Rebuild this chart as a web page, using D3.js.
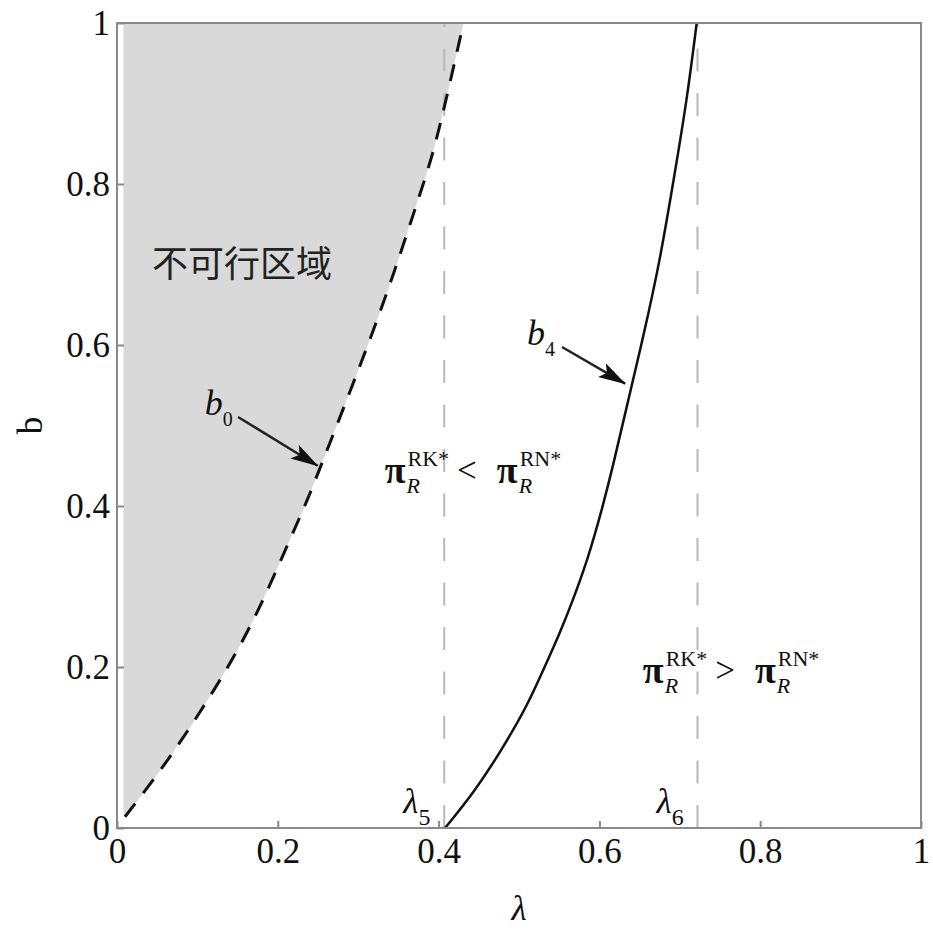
<!DOCTYPE html>
<html lang="zh">
<head>
<meta charset="utf-8">
<title>b - λ</title>
<script src="https://cdn.jsdelivr.net/npm/d3@7/dist/d3.min.js"></script>
<style>
    body { margin: 0; background: #fff; }
    text { font-family: "Liberation Serif", "Times New Roman", serif; fill: #111; }
    text.cjk { font-family: "Noto Sans CJK SC", sans-serif; fill: #222; }
</style>
</head>
<body>
<div id="chart"></div>
<script>
    // curve b0 (boundary of the infeasible region)
    const b0Lambda = [0.010, 0.058, 0.103, 0.149, 0.184, 0.213, 0.236, 0.254, 0.293, 0.335, 0.381, 0.397, 0.431];
    const b0Value  = [0.014, 0.076, 0.143, 0.217, 0.287, 0.354, 0.405, 0.451, 0.550, 0.660, 0.800, 0.850, 1.000];
    // curve b4
    const b4Lambda = [0.408, 0.443, 0.476, 0.510, 0.534, 0.549, 0.566, 0.586, 0.603, 0.617, 0.632, 0.655, 0.675, 0.692, 0.709, 0.721];
    const b4Value  = [0.000, 0.043, 0.093, 0.151, 0.205, 0.238, 0.280, 0.335, 0.395, 0.450, 0.515, 0.612, 0.703, 0.803, 0.905, 1.000];
    // thresholds lambda5 and lambda6
    const thresholds = [0.407, 0.722];
    const thresholdNames = ["5", "6"];
    const fillLeft = 0.008;
    const xTicks = [0, 0.2, 0.4, 0.6, 0.8, 1];
    const yTicks = [0, 0.2, 0.4, 0.6, 0.8, 1];

    const width = 933, height = 933;
    const margin = {left: 117, right: 12, top: 23, bottom: 105};

    const svg = d3.select("#chart").append("svg")
        .attr("width", width)
        .attr("height", height);

    const x = d3.scaleLinear().domain([0, 1]).range([margin.left, width - margin.right]);
    const y = d3.scaleLinear().domain([0, 1]).range([height - margin.bottom, margin.top]);

    const b0 = b0Lambda.map((l, i) => ({lam: l, b: b0Value[i]}));
    const b4 = b4Lambda.map((l, i) => ({lam: l, b: b4Value[i]}));

    // grey infeasible region, left of b0
    svg.append("path")
        .datum(b0)
        .attr("fill", "#d9d9d9")
        .attr("d", d3.area()
            .curve(d3.curveBasis)
            .y(d => y(d.b))
            .x0(x(fillLeft))
            .x1(d => x(d.lam)));

    // vertical grey dashed lines (drawn from the bottom up)
    svg.selectAll(".vline")
        .data(thresholds)
        .enter()
        .append("line")
        .attr("x1", d => x(d)).attr("x2", d => x(d))
        .attr("y1", y(0)).attr("y2", y(1))
        .attr("stroke", "#b8b8b8")
        .attr("stroke-width", 2)
        .attr("stroke-dasharray", "23,21.5");

    // b0 dashed
    svg.append("path")
        .datum(b0)
        .attr("fill", "none")
        .attr("stroke", "#111")
        .attr("stroke-width", 3)
        .attr("stroke-dasharray", "17,13")
        .attr("d", d3.line().curve(d3.curveBasis).x(d => x(d.lam)).y(d => y(d.b)));

    // b4 solid
    svg.append("path")
        .datum(b4)
        .attr("fill", "none")
        .attr("stroke", "#111")
        .attr("stroke-width", 2.5)
        .attr("d", d3.line().curve(d3.curveBasis).x(d => x(d.lam)).y(d => y(d.b)));

    // axes, ticks pointing inward, no domain line
    const fmt = d3.format("");
    const xAxis = svg.append("g")
        .attr("transform", "translate(0," + y(0) + ")")
        .call(d3.axisBottom(x).tickValues(xTicks).tickFormat(fmt).tickSizeInner(-7).tickSizeOuter(0).tickPadding(10));
    const yAxis = svg.append("g")
        .attr("transform", "translate(" + x(0) + ",0)")
        .call(d3.axisLeft(y).tickValues(yTicks).tickFormat(fmt).tickSizeInner(-7).tickSizeOuter(0).tickPadding(7));
    [xAxis, yAxis].forEach(a => {
        a.select(".domain").remove();
        a.selectAll("line").attr("stroke", "#888").attr("stroke-width", 2);
        a.selectAll("text").style("font-size", "35px");
    });

    // frame
    svg.append("rect")
        .attr("x", x(0)).attr("y", y(1))
        .attr("width", x(1) - x(0)).attr("height", y(0) - y(1))
        .attr("fill", "none")
        .attr("stroke", "#8a8a8a")
        .attr("stroke-width", 2);

    // axis titles
    svg.append("text")
        .attr("x", (x(0) + x(1)) / 2)
        .attr("y", y(0) + 92)
        .attr("text-anchor", "middle")
        .attr("font-size", 35)
        .attr("font-style", "italic")
        .text("λ");
    svg.append("text")
        .attr("transform", "translate(42," + (y(0) + y(1)) / 2 + ") rotate(-90)")
        .attr("text-anchor", "middle")
        .attr("font-size", 35)
        .text("b");

    // region label
    svg.append("text")
        .attr("class", "cjk")
        .attr("x", x(0.0435)).attr("y", y(0.684))
        .attr("font-size", 36)
        .text("不可行区域");

    // arrow marker
    svg.append("defs").append("marker")
        .attr("id", "head")
        .attr("markerUnits", "userSpaceOnUse")
        .attr("viewBox", "0 0 28 16")
        .attr("refX", 27).attr("refY", 8)
        .attr("markerWidth", 28).attr("markerHeight", 16)
        .attr("orient", "auto")
        .append("path")
        .attr("d", "M0,0 L28,8 L0,16 L6,8 Z")
        .attr("fill", "#111");

    function curveLabel(name, sub, lam, bb, from, to) {
        const t = svg.append("text")
            .attr("x", x(lam)).attr("y", y(bb))
            .attr("font-size", 36)
            .attr("font-style", "italic")
            .text(name);
        const w = t.node().getComputedTextLength();
        svg.append("text")
            .attr("x", x(lam) + w).attr("y", y(bb) + 11)
            .attr("font-size", 20)
            .text(sub);
        svg.append("line")
            .attr("x1", x(from[0])).attr("y1", y(from[1]))
            .attr("x2", x(to[0])).attr("y2", y(to[1]))
            .attr("stroke", "#222")
            .attr("stroke-width", 2.5)
            .attr("marker-end", "url(#head)");
    }
    curveLabel("b", "0", 0.109, 0.513, [0.1505, 0.5106], [0.2495, 0.450]);
    curveLabel("b", "4", 0.510, 0.600, [0.5535, 0.5975], [0.632, 0.552]);

    // profit comparison labels
    function piTerm(g, x0, sup) {
        const p = g.append("text").attr("x", x0).attr("y", 0)
            .attr("font-size", 38).attr("font-weight", "bold").text("π");
        const w = p.node().getComputedTextLength();
        const s = g.append("text").attr("x", x0 + w + 2).attr("y", -17).attr("font-size", 22).text(sup);
        g.append("text").attr("x", x0 + w + 1).attr("y", 10).attr("font-size", 22)
            .attr("font-style", "italic").text("R");
        return x0 + w + 2 + s.node().getComputedTextLength();
    }
    function compare(lam, bb, sign) {
        const g = svg.append("g").attr("transform", "translate(" + x(lam) + "," + y(bb) + ")");
        let end = piTerm(g, 0, "RK*");
        const r = g.append("text").attr("x", end + 8).attr("y", -1).attr("font-size", 35).text(sign);
        end = end + 8 + r.node().getComputedTextLength() + 20;
        piTerm(g, end, "RN*");
    }
    compare(0.333, 0.4286, "<");
    compare(0.654, 0.180, ">");

    // lambda5 / lambda6 labels
    thresholds.forEach((t, i) => {
        const lx = x(t) - 41, ly = y(0.0186);
        const l = svg.append("text").attr("x", lx).attr("y", ly)
            .attr("font-size", 35).attr("font-style", "italic").text("λ");
        svg.append("text")
            .attr("x", lx + l.node().getComputedTextLength())
            .attr("y", ly + 12)
            .attr("font-size", 24)
            .text(thresholdNames[i]);
    });
</script>
</body>
</html>
